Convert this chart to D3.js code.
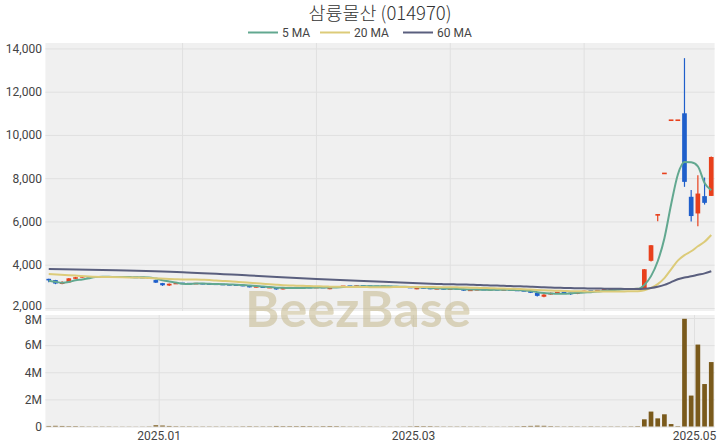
<!DOCTYPE html>
<html><head><meta charset="utf-8">
<script src="https://cdn.jsdelivr.net/npm/d3@7"></script>
<style>
body{margin:0;background:#fff}
svg{display:block}
text{font-family:Roboto,"Noto Sans",sans-serif}
</style>
</head><body>
<svg id="c" width="720" height="448"></svg>
<script>
// ---------------- DATA ----------------
const title = "삼륭물산 (014970)";
const dates = [
"2024-12-06","2024-12-09","2024-12-10","2024-12-11","2024-12-12","2024-12-13","2024-12-16","2024-12-17","2024-12-18","2024-12-19",
"2024-12-20","2024-12-23","2024-12-24","2024-12-26","2024-12-27","2024-12-30","2025-01-02","2025-01-03","2025-01-06","2025-01-07",
"2025-01-08","2025-01-09","2025-01-10","2025-01-13","2025-01-14","2025-01-15","2025-01-16","2025-01-17","2025-01-20","2025-01-21",
"2025-01-22","2025-01-23","2025-01-24","2025-01-31","2025-02-03","2025-02-04","2025-02-05","2025-02-06","2025-02-07","2025-02-10",
"2025-02-11","2025-02-12","2025-02-13","2025-02-14","2025-02-17","2025-02-18","2025-02-19","2025-02-20","2025-02-21","2025-02-24",
"2025-02-25","2025-02-26","2025-02-27","2025-02-28","2025-03-04","2025-03-05","2025-03-06","2025-03-07","2025-03-10","2025-03-11",
"2025-03-12","2025-03-13","2025-03-14","2025-03-17","2025-03-18","2025-03-19","2025-03-20","2025-03-21","2025-03-24","2025-03-25",
"2025-03-26","2025-03-27","2025-03-28","2025-03-31","2025-04-01","2025-04-02","2025-04-03","2025-04-04","2025-04-07","2025-04-08",
"2025-04-09","2025-04-10","2025-04-11","2025-04-14","2025-04-15","2025-04-16","2025-04-17","2025-04-18","2025-04-21","2025-04-22",
"2025-04-23","2025-04-24","2025-04-25","2025-04-28","2025-04-29","2025-04-30","2025-05-02","2025-05-07","2025-05-08","2025-05-09"];

const open = [3340,3290,3110,3180,3350,3410,3450,3420,3440,3430, 3420,3440,3430,3420,3410,3400,3290,3150,3040,3120,
 3140,3130,3120,3130,3110,3100,3090,3080,3060,3050, 3020,2960,2990,2930,2950,2860,2930,2940,2930,2950,
 2940,2950,2870,2940,2990,3010,3000,3020,3010,3000, 2990,3000,2980,2970,2960,2870,2930,2920,2880,2890,
 2860,2890,2880,2800,2830,2850,2840,2850,2830,2840, 2820,2800,2780,2700,2520,2620,2700,2720,2700,2650,
 2740,2790,2780,2820,2850,2880,2870,2890,2880,2900, 4180,6280,8220,10680,10680,11000,7140,6370,7170,7180];
const high = [3350,3300,3230,3390,3440,3480,3470,3450,3450,3440, 3450,3450,3440,3430,3420,3410,3300,3160,3130,3150,
 3150,3140,3140,3140,3120,3110,3100,3090,3070,3060, 3030,3000,3000,2960,2960,2940,2950,2950,2960,2960,
 2960,2960,2950,3000,3020,3020,3030,3030,3020,3010, 3010,3010,2990,2980,2970,2940,2940,2930,2900,2900,
 2900,2900,2890,2840,2860,2860,2860,2860,2850,2850, 2830,2810,2790,2710,2630,2710,2730,2730,2710,2750,
 2800,2800,2830,2860,2890,2890,2900,2900,2910,3800, 4910,6330,8220,10680,10680,13550,7450,8140,8030,9000];
const low = [3190,3100,3100,3160,3340,3400,3420,3410,3420,3410, 3410,3420,3410,3400,3390,3380,3150,3020,3020,3110,
 3120,3110,3110,3100,3090,3080,3070,3050,3040,3010, 2950,2950,2920,2920,2840,2850,2920,2920,2920,2930,
 2930,2930,2860,2930,2980,2990,2990,3000,2990,2980, 2980,2970,2960,2950,2920,2860,2910,2870,2870,2860,
 2850,2870,2790,2790,2820,2830,2830,2820,2820,2810, 2790,2770,2690,2530,2500,2610,2690,2690,2600,2640,
 2730,2770,2770,2810,2840,2860,2860,2870,2870,2890, 4150,6010,8220,10680,10680,7600,6000,5780,6780,7180];
const close = [3280,3130,3200,3370,3420,3470,3430,3440,3430,3420, 3440,3430,3420,3410,3400,3390,3170,3050,3120,3140,
 3130,3120,3130,3110,3100,3090,3080,3060,3050,3020, 2960,2990,2930,2950,2860,2930,2940,2930,2950,2940,
 2950,2940,2940,2990,3010,3000,3020,3010,3000,2990, 3000,2980,2970,2960,2930,2930,2920,2880,2890,2870,
 2890,2880,2800,2830,2850,2840,2850,2830,2840,2820, 2800,2780,2700,2560,2620,2700,2720,2700,2650,2740,
 2790,2780,2820,2850,2880,2870,2890,2880,2900,3790, 4900,6330,8220,10680,10680,7830,6250,7290,6860,8980];
const volume = [40000,50000,40000,30000,30000,20000,15000,15000,15000,15000, 10000,10000,10000,8000,10000,15000,90000,70000,40000,25000,
 20000,20000,15000,15000,15000,15000,15000,15000,15000,20000, 25000,20000,20000,20000,40000,30000,30000,30000,35000,30000,
 20000,30000,35000,30000,20000,15000,15000,15000,15000,10000, 10000,10000,10000,10000,20000,35000,30000,30000,20000,15000,
 15000,15000,20000,15000,15000,15000,10000,10000,10000,15000, 20000,35000,45000,60000,50000,30000,20000,15000,20000,15000,
 15000,20000,15000,15000,15000,15000,15000,20000,30000, 530000,1100000,600000,900000,180000,30000,7940000,2280000,6040000,3130000,4750000];
// Moving averages before a full window exists: values [index, value]
const ma5Head  = [[0,3260],[1,3210],[2,3170],[3,3200]];
const ma20Head = [[0,3570],[3,3510],[6,3460],[9,3430],[12,3410],[15,3390],[18,3340]];
const ma60Head = [[0,3800],[10,3740],[20,3650],[30,3500],[40,3340],[50,3210],[58,3110]];
const maNames = ["5 MA","20 MA","60 MA"];
const maWindows = [5,20,60];
const maHeads = [ma5Head, ma20Head, ma60Head];
const priceTicks = [2000,4000,6000,8000,10000,12000,14000];
const volTicks = [0,2000000,4000000,6000000,8000000];
const xTickDates = ["2025-01-02","2025-03-04","2025-05-02"];
const xTickLabels = ["2025.01","2025.03","2025.05"];
const watermark = "BeezBase";

// ---------------- STYLE ----------------
const W = 720, H = 448;
const L = 45.4, R = 714.6;
const pTop = 43, pBot = 311, vTop = 315, vBot = 427;
const maColors = ["#62a890","#dccb79","#5a5f7e"];
const upColor = "#e8401c", downColor = "#1f5fcb", volColor = "#7a5a1c";
const bgColor = "#f0f0f0", gridColor = "#e0e0e0", textColor = "#444";

const svg = d3.select("#c");
const x = d3.scaleBand().domain(dates).range([L, R]).padding(0);
const bw = x.bandwidth();
const cx = d => x(d) + bw / 2;
const y = d3.scaleLinear().domain([1860, 14250]).range([pBot, pTop]);
const yv = d3.scaleLinear().domain([0, 8220000]).range([vBot - 0.5, vTop]);

// backgrounds
svg.append("rect").attr("x", L).attr("y", pTop).attr("width", R - L).attr("height", pBot - pTop).attr("fill", bgColor);
svg.append("rect").attr("x", L).attr("y", vTop).attr("width", R - L).attr("height", vBot - vTop).attr("fill", bgColor);

// price axis + horizontal grid
const gy = svg.append("g").attr("transform", `translate(${L},0)`)
  .call(d3.axisLeft(y).tickValues(priceTicks).tickFormat(d3.format(",")).tickSize(-(R - L)).tickPadding(3.5));
gy.select(".domain").remove();
gy.selectAll("line").attr("stroke", gridColor);
gy.selectAll("text").attr("fill", textColor).attr("font-size", 12);
gy.selectAll(".tick").filter(d => d === 2000).select("text").attr("dy", "0.1em");

// price panel vertical grid (every 20 sessions)
const upperGrid = dates.filter((d, i) => i > 0 && i % 20 === 0);
svg.append("g").selectAll("line").data(upperGrid).join("line")
  .attr("x1", cx).attr("x2", cx).attr("y1", pTop).attr("y2", pBot)
  .attr("stroke", gridColor);

// volume axis + grid
const gv = svg.append("g").attr("transform", `translate(${L},0)`)
  .call(d3.axisLeft(yv).tickValues(volTicks).tickFormat(d => d === 0 ? "0" : (d / 1e6) + "M").tickSize(-(R - L)).tickPadding(3.5));
gv.select(".domain").remove();
gv.selectAll("line").attr("stroke", gridColor);
gv.selectAll("text").attr("fill", textColor).attr("font-size", 12);
gv.selectAll(".tick").filter(d => d === 8000000).select("text").attr("dy", "0.5em");

// x axis (volume panel)
const gx = svg.append("g").attr("transform", `translate(${bw / 2},${vBot})`)
  .call(d3.axisBottom(x).tickValues(xTickDates).tickFormat((d, i) => xTickLabels[i]).tickSize(-(vBot - vTop)).tickPadding(4));
gx.select(".domain").remove();
gx.selectAll("line").attr("stroke", gridColor);
gx.selectAll("text").attr("fill", textColor).attr("font-size", 12);

// volume bars
const vw = bw * 0.7;
svg.append("g").selectAll("rect").data(dates).join("rect")
  .attr("x", d => cx(d) - vw / 2)
  .attr("width", vw)
  .attr("y", (d, i) => yv(volume[i]))
  .attr("height", (d, i) => Math.max(0, yv(0) - yv(volume[i])))
  .attr("fill", volColor);

// candles
const cw = bw * 0.7;
const cg = svg.append("g").selectAll("g").data(dates).join("g");
const col = i => close[i] >= open[i] ? upColor : downColor;
cg.append("line")
  .attr("x1", cx).attr("x2", cx)
  .attr("y1", (d, i) => y(high[i])).attr("y2", (d, i) => y(low[i]))
  .attr("stroke", (d, i) => col(i)).attr("stroke-width", 1.2);
cg.append("rect")
  .attr("x", d => cx(d) - cw / 2).attr("width", cw)
  .attr("y", (d, i) => { const t = y(Math.max(open[i], close[i])), b = y(Math.min(open[i], close[i])); return b - t < 1.6 ? (t + b) / 2 - 0.8 : t; })
  .attr("height", (d, i) => Math.max(1.6, y(Math.min(open[i], close[i])) - y(Math.max(open[i], close[i]))))
  .attr("fill", (d, i) => col(i));

// moving averages
maWindows.forEach((w, k) => {
  const pts = maHeads[k].map(([i, v]) => [cx(dates[i]), y(v)]);
  for (let i = w - 1; i < dates.length; i++) {
    const m = d3.mean(close.slice(i - w + 1, i + 1));
    pts.push([cx(dates[i]), y(m)]);
  }
  svg.append("path").datum(pts)
    .attr("d", d3.line().curve(d3.curveMonotoneX))
    .attr("fill", "none").attr("stroke", maColors[k]).attr("stroke-width", 2);
});

// title
svg.append("text").attr("x", (L + R) / 2).attr("y", 20).attr("text-anchor", "middle")
  .attr("font-size", 18.5).attr("fill", "#333")
  .style("font-family", "'Noto Sans CJK KR', sans-serif").style("font-weight", 300)
  .text(title);

// legend
const lg = svg.append("g");
const legX = [248, 320, 403];
maNames.forEach((n, k) => {
  lg.append("line").attr("x1", legX[k]).attr("x2", legX[k] + 30).attr("y1", 32.5).attr("y2", 32.5)
    .attr("stroke", maColors[k]).attr("stroke-width", 2);
  lg.append("text").attr("x", legX[k] + 34).attr("y", 37).attr("font-size", 12).attr("fill", textColor).text(n);
});

// watermark
svg.append("text").attr("x", 245).attr("y", 327)
  .attr("font-size", 50).attr("font-weight", "bold")
  .attr("textLength", 226).attr("lengthAdjust", "spacingAndGlyphs")
  .attr("fill", "rgb(196,184,140)").attr("fill-opacity", 0.55)
  .style("font-family", "Lato, 'DejaVu Sans', sans-serif")
  .text(watermark);
</script>
</body></html>
